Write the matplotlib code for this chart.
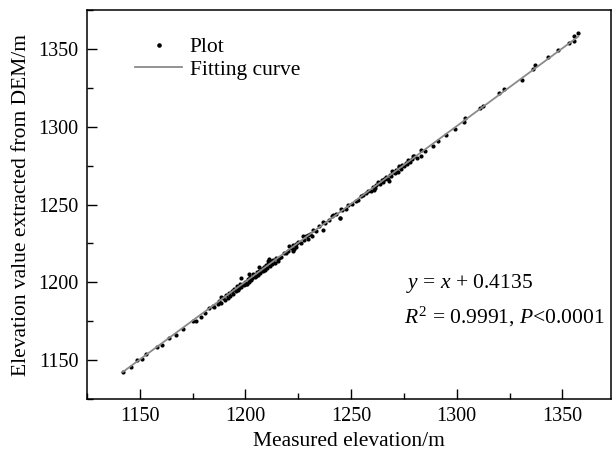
import matplotlib
matplotlib.use("Agg")
import matplotlib.pyplot as plt
from matplotlib.ticker import MultipleLocator
import numpy as np

plt.rcParams['font.family'] = ['Liberation Serif', 'DejaVu Serif']
plt.rcParams['mathtext.fontset'] = 'custom'
plt.rcParams['mathtext.rm'] = 'Liberation Serif'
plt.rcParams['mathtext.it'] = 'Liberation Serif:italic'

# measured elevation (m)
measured = [
    1142.0, 1145.8, 1148.9, 1150.8, 1152.8, 1157.9, 1160.7, 1163.8, 1167.0, 1170.4,
    1175.1, 1176.4, 1179.1, 1181.0, 1182.9, 1184.6, 1185.3, 1186.9, 1187.5, 1188.4,
    1188.5, 1189.3, 1190.1, 1190.8, 1191.5, 1192.2, 1192.9, 1193.6, 1194.0, 1194.7,
    1195.3, 1195.9, 1196.4, 1197.0, 1197.5, 1198.0, 1198.1, 1198.6, 1199.4, 1199.9,
    1200.3, 1200.5, 1201.0, 1201.6, 1201.9, 1202.1, 1202.7, 1203.2, 1203.8, 1204.3,
    1204.9, 1205.4, 1205.9, 1206.5, 1206.6, 1207.0, 1207.6, 1208.1, 1208.2, 1208.7,
    1209.2, 1209.8, 1210.3, 1210.5, 1210.9, 1211.3, 1211.5, 1212.0, 1212.6, 1213.2,
    1213.8, 1214.5, 1215.2, 1216.0, 1217.0, 1218.1, 1219.3, 1220.2, 1220.8, 1221.5,
    1222.3, 1222.6, 1223.1, 1223.8, 1223.9, 1224.9, 1226.1, 1227.0, 1227.9, 1228.8,
    1229.4, 1229.7, 1230.5, 1231.3, 1232.1, 1233.2, 1234.9, 1236.5, 1236.8, 1237.6,
    1239.4, 1240.9, 1241.2, 1242.8, 1244.7, 1244.8, 1245.1, 1245.9, 1247.4, 1248.7,
    1250.5, 1252.2, 1253.4, 1254.6, 1255.8, 1257.0, 1258.1, 1259.3, 1260.3, 1260.8,
    1261.2, 1262.0, 1262.8, 1263.2, 1263.6, 1264.4, 1265.1, 1265.6, 1265.9, 1266.7,
    1267.5, 1267.9, 1268.3, 1269.1, 1269.2, 1269.8, 1270.6, 1271.3, 1272.1, 1272.6,
    1272.8, 1273.6, 1274.3, 1275.1, 1275.8, 1276.6, 1276.9, 1277.3, 1278.0, 1278.8,
    1279.2, 1279.7, 1281.0, 1282.9, 1282.9, 1285.2, 1288.8, 1291.0, 1295.0, 1299.4,
    1303.6, 1303.8, 1310.8, 1312.3, 1319.8, 1322.2, 1330.8, 1336.3, 1336.8, 1343.1,
    1348.1, 1353.1, 1355.5, 1355.5, 1357.5,
]
# elevation extracted from the DEM (m)
dem = [
    1142.6, 1145.5, 1150.3, 1150.6, 1154.2, 1158.1, 1159.8, 1164.3, 1166.4, 1169.9,
    1174.9, 1175.4, 1177.8, 1180.4, 1183.8, 1184.9, 1184.2, 1186.3, 1188.2, 1186.9,
    1190.4, 1189.6, 1188.7, 1191.9, 1190.2, 1193.1, 1191.0, 1194.6, 1192.8, 1195.9,
    1194.1, 1197.4, 1195.2, 1196.3, 1199.1, 1202.8, 1197.0, 1198.8, 1198.1, 1200.5,
    1198.9, 1199.2, 1201.8, 1200.3, 1205.4, 1203.4, 1201.4, 1202.9, 1205.2, 1203.1,
    1204.2, 1206.6, 1204.8, 1207.3, 1209.6, 1205.7, 1208.5, 1207.0, 1208.5, 1209.6,
    1208.1, 1211.2, 1209.4, 1213.9, 1212.0, 1214.9, 1210.6, 1213.4, 1211.9, 1214.1,
    1212.6, 1215.3, 1214.0, 1215.7, 1216.4, 1218.9, 1218.6, 1220.4, 1223.4, 1221.8,
    1220.2, 1224.2, 1221.3, 1222.9, 1224.5, 1226.1, 1225.3, 1229.8, 1227.2, 1229.7,
    1230.5, 1228.1, 1231.0, 1229.7, 1233.5, 1232.8, 1236.2, 1233.5, 1238.9, 1238.0,
    1240.3, 1242.6, 1243.2, 1243.9, 1241.5, 1241.1, 1246.9, 1246.7, 1247.3, 1249.6,
    1250.5, 1252.2, 1253.2, 1255.4, 1256.4, 1257.3, 1258.9, 1258.6, 1261.1, 1259.6,
    1260.3, 1262.8, 1264.2, 1263.9, 1262.9, 1265.9, 1264.6, 1266.1, 1266.2, 1267.5,
    1266.4, 1265.0, 1269.2, 1268.4, 1271.4, 1270.9, 1270.1, 1272.4, 1271.0, 1274.6,
    1273.8, 1272.9, 1275.5, 1274.5, 1276.8, 1275.8, 1278.8, 1278.1, 1277.2, 1279.4,
    1280.9, 1280.9, 1280.0, 1285.2, 1281.4, 1284.1, 1287.7, 1290.7, 1294.6, 1298.6,
    1302.9, 1305.7, 1311.9, 1313.4, 1321.7, 1324.3, 1330.3, 1337.1, 1339.6, 1344.9,
    1349.4, 1354.0, 1355.3, 1358.3, 1360.0,
]
fit_slope = 1.0
fit_intercept = 0.4135
fit_text = r'$y$ = $x$ + 0.4135'
stat_text = r'$R^2$ = 0.9991, $P$<0.0001'

fig = plt.figure(figsize=(6.13, 4.55), dpi=100)
ax = fig.add_axes([87 / 613, 56 / 455, 524 / 613, 389 / 455])

ax.plot(measured, dem, 'ko', ms=3.0, mew=0, label='Plot')

fx = np.array([min(measured), max(measured)])
ax.plot(fx, fit_slope * fx + fit_intercept, '-', color='#8a8a8a', lw=1.3,
        label='Fitting curve')

ax.set_xlim(1125, 1373)
ax.set_ylim(1125, 1375)
ax.xaxis.set_major_locator(MultipleLocator(50))
ax.xaxis.set_minor_locator(MultipleLocator(25))
ax.yaxis.set_major_locator(MultipleLocator(50))
ax.yaxis.set_minor_locator(MultipleLocator(25))
ax.tick_params(which='both', direction='in', width=1.0, labelsize=14.5, pad=6)
ax.tick_params(which='major', length=7)
ax.tick_params(which='minor', length=4)
for s in ax.spines.values():
    s.set_linewidth(1.1)

ax.set_xlabel('Measured elevation/m', fontsize=15.5, labelpad=4)
ax.set_ylabel('Elevation value extracted from DEM/m', fontsize=15.5, labelpad=5)

ax.legend(loc='upper left', bbox_to_anchor=(0.0916, 0.93), frameon=False,
          fontsize=15.5, handlelength=2.2, handletextpad=0.35, labelspacing=0.1,
          borderpad=0, borderaxespad=0, numpoints=1, markerscale=1.1)

ax.text(0.609, 0.298, fit_text, transform=ax.transAxes, fontsize=15.5, va='center')
ax.text(0.605, 0.211, stat_text, transform=ax.transAxes, fontsize=15.5, va='center')

fig.savefig('out.png', dpi=100)
